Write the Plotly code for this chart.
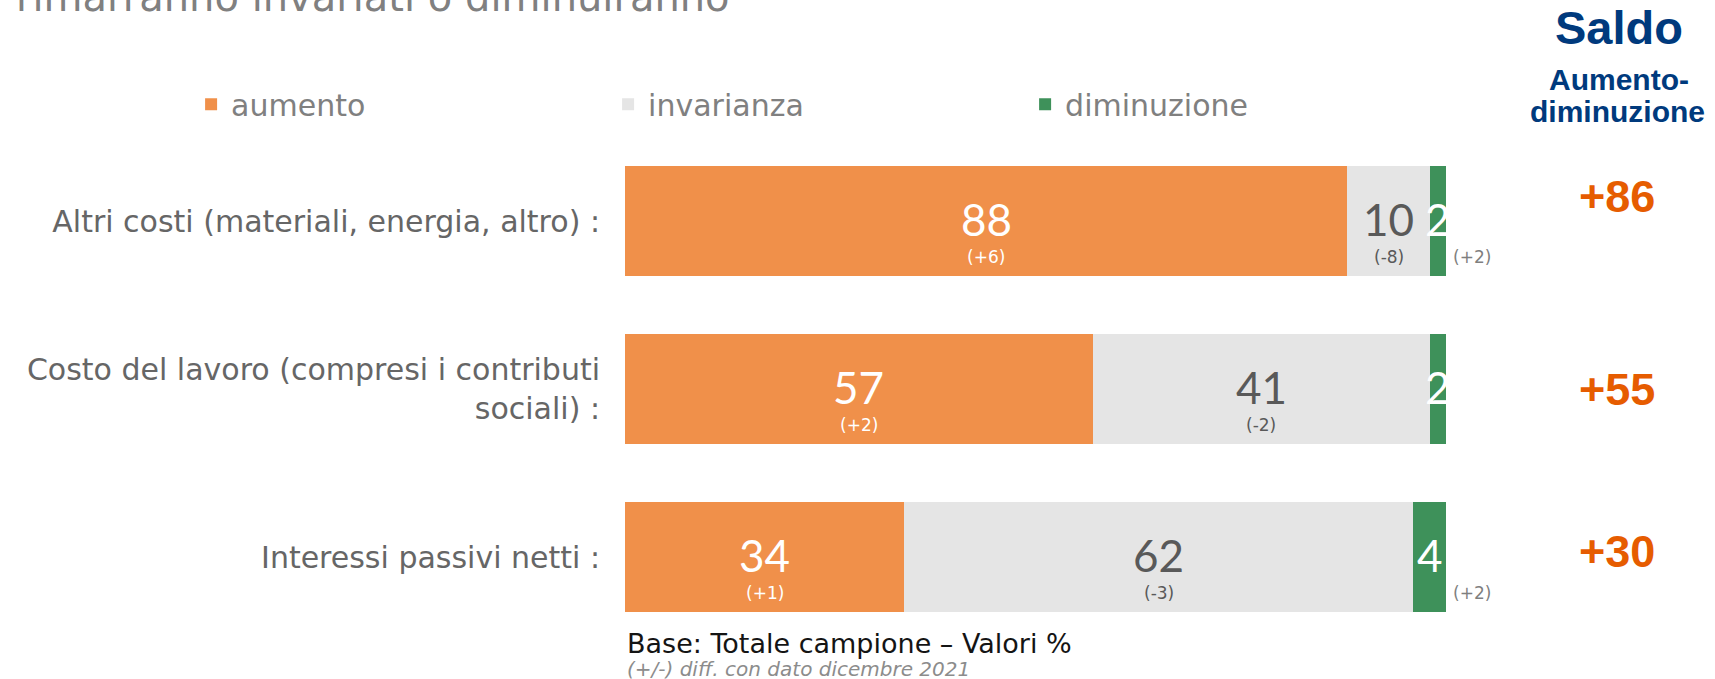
import plotly.graph_objects as go

categories = ["Altri costi (materiali, energia, altro) :",
              "Costo del lavoro (compresi i contributi<br>sociali) :",
              "Interessi passivi netti :"]
aumento = [88, 57, 34]
invarianza = [10, 41, 62]
diminuzione = [2, 2, 4]
diff_aumento = ["(+6)", "(+2)", "(+1)"]
diff_invarianza = ["(-8)", "(-2)", "(-3)"]
diff_diminuzione = ["(+2)", "", "(+2)"]
series_names = ["aumento", "invarianza", "diminuzione"]

# styling
colors = ["#F0904A", "#E5E5E5", "#3E915A"]
saldo_yshift = [25, 0, 6]
GREY_TXT = "#666666"
BODY = "DejaVu Sans"
NUM = "Lato"

fig = go.Figure()
for name, vals, col in zip(series_names, [aumento, invarianza, diminuzione], colors):
    fig.add_trace(go.Bar(y=categories, x=vals, name=name, orientation="h",
                         marker=dict(color=col, line=dict(width=0)), width=0.66,
                         hoverinfo="skip"))

ann = []
for i, cat in enumerate(categories):
    a, v, d = aumento[i], invarianza[i], diminuzione[i]
    segs = [(a / 2, a, diff_aumento[i], "white", "white"),
            (a + v / 2, v, diff_invarianza[i], "#595959", "#595959"),
            (a + v + d / 2, d, "", "white", "white")]
    for xc, val, dtxt, c1, c2 in segs:
        ann.append(dict(x=xc, y=cat, xref="x", yref="y", text=str(val), showarrow=False,
                        xanchor="center",
                        font=dict(family=NUM, size=44, color=c1), yshift=2))
        if dtxt:
            ann.append(dict(x=xc, y=cat, xref="x", yref="y", text=dtxt, showarrow=False,
                            xanchor="center",
                            font=dict(family=BODY, size=17, color=c2), yshift=-36))
    if diff_diminuzione[i]:
        ann.append(dict(x=a + v + d, y=cat, xref="x", yref="y", text=diff_diminuzione[i],
                        showarrow=False, xanchor="left", xshift=5,
                        font=dict(family=BODY, size=17, color="#7F7F7F"), yshift=-36))
    saldo = a - d
    ann.append(dict(x=1.208, y=cat, xref="paper", yref="y",
                    text=f"+{saldo}" if saldo > 0 else str(saldo),
                    showarrow=False, xanchor="center",
                    font=dict(family="Liberation Sans", size=45, color="#E65C00", weight="bold"),
                    yshift=saldo_yshift[i]))

ann += [
    dict(x=1.211, y=1.218, xref="paper", yref="paper", xanchor="center", yanchor="middle",
         text="<b>Saldo</b>", showarrow=False,
         font=dict(family="Liberation Sans", size=47, color="#003A7D")),
    dict(x=1.211, y=1.115, xref="paper", yref="paper", xanchor="center", yanchor="middle",
         text="<b>Aumento-</b>", showarrow=False,
         font=dict(family="Liberation Sans", size=30, color="#003A7D")),
    dict(x=1.209, y=1.05, xref="paper", yref="paper", xanchor="center", yanchor="middle",
         text="<b>diminuzione</b>", showarrow=False,
         font=dict(family="Liberation Sans", size=30, color="#003A7D")),
    dict(x=-0.744, y=1.228, xref="paper", yref="paper", xanchor="left", yanchor="bottom",
         text="rimarranno invariati o diminuiranno", showarrow=False,
         font=dict(family=BODY, size=40, color="#808080")),
    dict(x=0.0, y=0.03, xref="paper", yref="paper", xanchor="left", yanchor="top",
         text="Base: Totale campione – Valori %", showarrow=False,
         font=dict(family=BODY, size=27, color="#141414")),
    dict(x=0.0, y=-0.027, xref="paper", yref="paper", xanchor="left", yanchor="top",
         text="<i>(+/-) diff. con dato dicembre 2021</i>", showarrow=False,
         font=dict(family=BODY, size=20, color="#8C8C8C")),
]

fig.update_layout(
    width=1715, height=679,
    barmode="stack",
    bargap=0,
    plot_bgcolor="white", paper_bgcolor="white",
    margin=dict(l=625, r=269, t=137, b=38),
    showlegend=True,
    legend=dict(orientation="h", x=-0.5285, y=1.065, xanchor="left", yanchor="middle",
                traceorder="normal",
                entrywidth=372, entrywidthmode="pixels",
                font=dict(family=BODY, size=30, color="#808080"),
                bgcolor="rgba(0,0,0,0)"),
    xaxis=dict(range=[0, 100], visible=False, fixedrange=True),
    yaxis=dict(autorange="reversed", showgrid=False, zeroline=False, showline=False,
               ticks="", ticklabelstandoff=24,
               tickfont=dict(family=BODY, size=30, color=GREY_TXT)),
    annotations=ann,
)

fig.write_html("out.html", config={"displayModeBar": False},
               post_script="document.body.style.margin='0';")
